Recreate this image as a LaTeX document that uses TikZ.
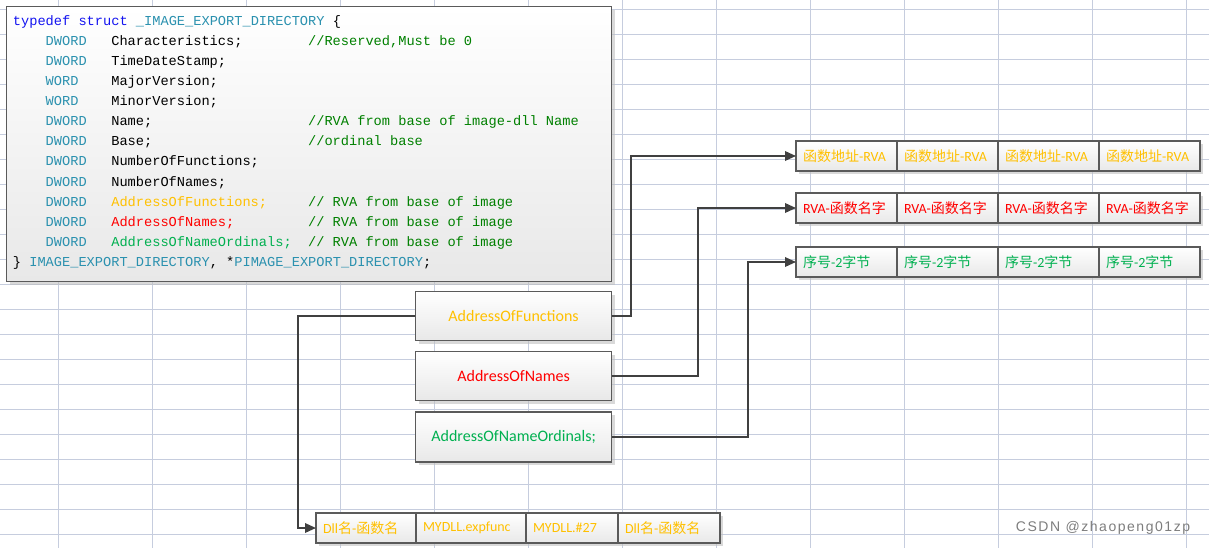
\documentclass[tikz,border=0pt]{standalone}
\usepackage{fontspec}
\setmainfont{Carlito}
\newfontfamily\codefont{Liberation Mono}
\newfontfamily\cjk{Noto Sans CJK SC}
\newfontfamily\markfont[LetterSpace=11]{Liberation Sans}
\usetikzlibrary{arrows.meta}
\usetikzlibrary{positioning}
\usetikzlibrary{shadows}

\definecolor{gridblue}{RGB}{198,205,222}
\definecolor{boxgray}{RGB}{90,90,90}
\definecolor{boxbottom}{RGB}{232,232,232}
\definecolor{linkgray}{RGB}{64,64,64}
\definecolor{kwblue}{RGB}{20,20,240}
\definecolor{typeteal}{RGB}{43,145,175}
\definecolor{cmtgreen}{RGB}{0,128,0}
\definecolor{funcorange}{RGB}{255,192,0}
\definecolor{namered}{RGB}{255,0,0}
\definecolor{ordgreen}{RGB}{0,176,80}
\definecolor{markgray}{RGB}{125,125,125}

\tikzset{
    panel/.style={draw=boxgray, line width=1.2pt, top color=white, bottom color=boxbottom,
        drop shadow={shadow xshift=3pt, shadow yshift=-3pt, fill=black!25, opacity=.6}},
    code/.style={font=\codefont\fontsize{13.67}{16}\selectfont, anchor=base west, inner sep=0pt},
    field/.style={panel, minimum width=196pt, minimum height=49pt, inner sep=0pt,
        font=\fontsize{16}{19}\selectfont},
    cell/.style={panel, outer sep=0pt, anchor=north west, minimum height=30pt, inner xsep=7pt,
        inner ysep=0pt, align=left, text width=#1, font=\fontsize{14}{17}\selectfont},
    link/.style={draw=linkgray, line width=1.8pt, -{Triangle[length=11pt,width=9.5pt]}}
}

\begin{document}
\begin{tikzpicture}[x=1pt, y=-1pt]

    \useasboundingbox (0,0) rectangle (1209,548);

    % sheet grid behind everything
    \foreach \gx in {0,...,12}
        \draw[gridblue, line width=1pt] (58.3+94*\gx,0) -- (58.3+94*\gx,548);
    \foreach \gy in {0,...,21}
        \draw[gridblue, line width=1pt] (0,9.3+25*\gy) -- (1209,9.3+25*\gy);

    % struct listing
    \node[panel, anchor=north west, minimum width=605pt, minimum height=275pt] (codebox) at (6,6) {};
    \node[code] (head) at (12.7,26)
        {{\color{kwblue}typedef struct} {\color{typeteal}\_IMAGE\_EXPORT\_DIRECTORY} \{};
    \foreach \ty/\nm [count=\r] in {DWORD/Characteristics;, DWORD/TimeDateStamp;,
        WORD/MajorVersion;, WORD/MinorVersion;, DWORD/Name;, DWORD/Base;,
        DWORD/NumberOfFunctions;, DWORD/NumberOfNames;,
        DWORD/{\color{funcorange}AddressOfFunctions;},
        DWORD/{\color{namered}AddressOfNames;},
        DWORD/{\color{ordgreen}AddressOfNameOrdinals;}}
    {
        \node[code, text=typeteal] (type\r) at (45.5,26+20*\r) {\ty};
        \node[code] (field\r) at (111.1,26+20*\r) {\nm};
    }
    \node[code, text=cmtgreen] (note1) at (307.9,46) {//Reserved,Must be 0};
    \node[code, text=cmtgreen] (note5) at (307.9,126) {//RVA from base of image-dll Name};
    \node[code, text=cmtgreen] (note6) at (307.9,146) {//ordinal base};
    \node[code, text=cmtgreen] (note9) at (307.9,206) {// RVA from base of image};
    \node[code, text=cmtgreen] (note10) at (307.9,226) {// RVA from base of image};
    \node[code, text=cmtgreen] (note11) at (307.9,246) {// RVA from base of image};
    \node[code] (tail) at (12.7,266)
        {\} {\color{typeteal}IMAGE\_EXPORT\_DIRECTORY}, *{\color{typeteal}PIMAGE\_EXPORT\_DIRECTORY};};

    % the three address fields
    \node[field, anchor=north west, text=funcorange] (addrfunc) at (415,291) {AddressOfFunctions};
    \node[field, text=namered, below=10pt of addrfunc] (addrnames) {AddressOfNames};
    \node[field, text=ordgreen, below=10pt of addrnames, minimum height=50pt] (addrords) {AddressOfNameOrdinals;};

    % function address table
    \node[cell=87pt, text=funcorange] (funcs1) at (796,141) {{\cjk 函数地址}-RVA};
    \node[cell=87pt, text=funcorange, right=0pt of funcs1] (funcs2) {{\cjk 函数地址}-RVA};
    \node[cell=87pt, text=funcorange, right=0pt of funcs2] (funcs3) {{\cjk 函数地址}-RVA};
    \node[cell=87pt, text=funcorange, right=0pt of funcs3] (funcs4) {{\cjk 函数地址}-RVA};

    % name table
    \node[cell=87pt, text=namered] (names1) at (796,193) {RVA-{\cjk 函数名字}};
    \node[cell=87pt, text=namered, right=0pt of names1] (names2) {RVA-{\cjk 函数名字}};
    \node[cell=87pt, text=namered, right=0pt of names2] (names3) {RVA-{\cjk 函数名字}};
    \node[cell=87pt, text=namered, right=0pt of names3] (names4) {RVA-{\cjk 函数名字}};

    % ordinal table
    \node[cell=87pt, text=ordgreen] (ords1) at (796,247) {{\cjk 序号}-2{\cjk 字节}};
    \node[cell=87pt, text=ordgreen, right=0pt of ords1] (ords2) {{\cjk 序号}-2{\cjk 字节}};
    \node[cell=87pt, text=ordgreen, right=0pt of ords2] (ords3) {{\cjk 序号}-2{\cjk 字节}};
    \node[cell=87pt, text=ordgreen, right=0pt of ords3] (ords4) {{\cjk 序号}-2{\cjk 字节}};

    % forwarded entries
    \node[cell=86pt, text=funcorange] (dll1) at (316,513) {Dll{\cjk 名}-{\cjk 函数名}};
    \node[cell=96pt, text=funcorange, right=0pt of dll1] (dll2) {MYDLL.expfunc};
    \node[cell=78pt, text=funcorange, right=0pt of dll2] (dll3) {MYDLL.\#27};
    \node[cell=88pt, text=funcorange, right=0pt of dll3] (dll4) {Dll{\cjk 名}-{\cjk 函数名}};

    % connectors
    \draw[link] (addrfunc.east) -- ++(19,0) |- (funcs1.west);
    \draw[link] (addrnames.east) -- ++(86,0) |- (names1.west);
    \draw[link] (addrords.east) -- ++(136,0) |- (ords1.west);
    \draw[link] (addrfunc.west) -- ++(-117,0) |- (dll1.west);

    \node[font=\markfont\fontsize{14}{17}\selectfont, text=markgray] (mark) at (1103,528) {CSDN @zhaopeng01zp};

\end{tikzpicture}
\end{document}
